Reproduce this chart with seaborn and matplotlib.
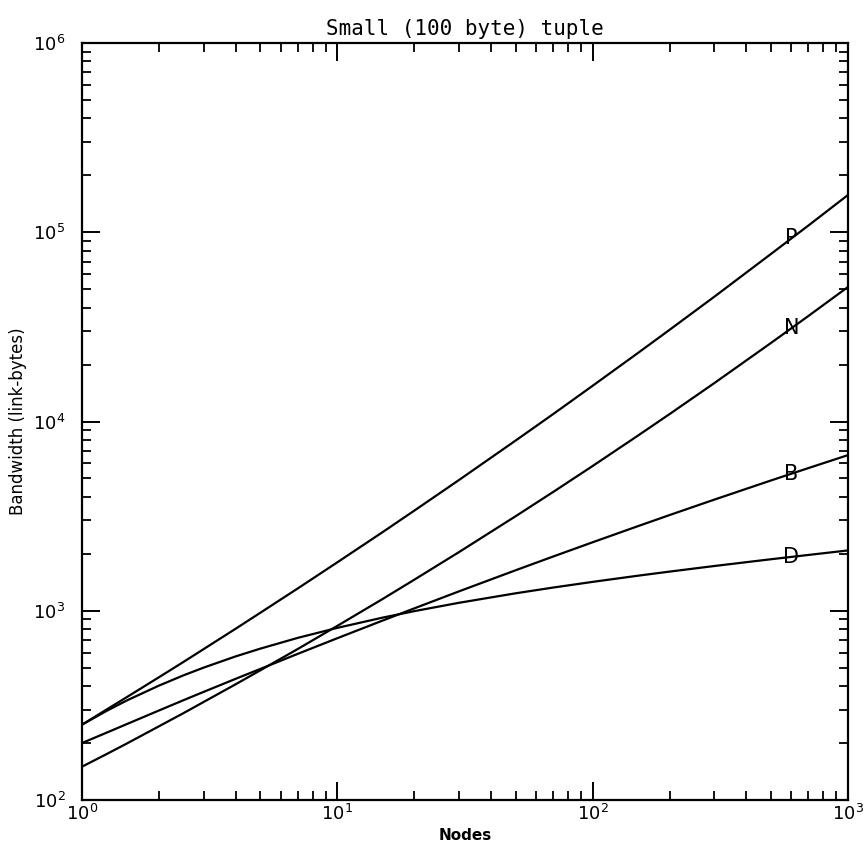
import numpy as np
import pandas as pd
import matplotlib
matplotlib.use("Agg")
import matplotlib.pyplot as plt
import seaborn as sns
from matplotlib.ticker import LogLocator, NullFormatter

# values (log-log axes)
nodes = [1, 1.25, 1.5, 2, 2.5, 3, 4, 5, 7, 10, 15, 20, 30, 50, 70,
         100, 150, 200, 300, 500, 700, 1000]
bw_p = [250, 301, 350, 445, 537, 628, 804, 977, 1312, 1803, 2596, 3378, 4914,
        7943, 10940, 15450, 22950, 30500, 45710, 76900, 108600, 157400]
bw_n = [150, 175, 199, 245, 288, 330, 409, 485, 628, 832, 1151, 1458, 2044,
        3163, 4241, 5821, 8401, 10940, 15980, 26040, 36120, 51400]
bw_b = [200, 227, 252, 297, 337, 373, 437, 493, 592, 716, 886, 1029, 1267,
        1638, 1934, 2301, 2795, 3203, 3868, 4883, 5675, 6643]
bw_d = [250, 296, 336, 402, 456, 501, 574, 631, 719, 812, 919, 995, 1102,
        1237, 1326, 1421, 1531, 1610, 1724, 1872, 1972, 2083]
series_names = ["P", "N", "B", "D"]
label_x = 600

df = pd.concat(
    [
        pd.DataFrame({"nodes": nodes, "bandwidth": vals, "series": name})
        for name, vals in zip(series_names, [bw_p, bw_n, bw_b, bw_d])
    ],
    ignore_index=True,
)

sns.set_style("ticks")
plt.rcParams["font.family"] = ["DejaVu Sans"]
plt.rcParams["text.color"] = "black"
plt.rcParams["axes.labelcolor"] = "black"
plt.rcParams["xtick.color"] = "black"
plt.rcParams["ytick.color"] = "black"

fig = plt.figure(figsize=(8.66, 8.52), dpi=100)
ax = fig.add_axes([82 / 866, 1 - 800 / 852, 766 / 866, 757 / 852])

sns.lineplot(
    data=df, x="nodes", y="bandwidth", hue="series",
    palette={s: "black" for s in series_names}, legend=False,
    linewidth=1.6, ax=ax,
)
ax.set_xscale("log")
ax.set_yscale("log")
ax.set_xlim(1, 1000)
ax.set_ylim(100, 1e6)

for spine in ax.spines.values():
    spine.set_visible(True)
    spine.set_linewidth(1.6)
    spine.set_color("black")

ax.xaxis.set_major_locator(LogLocator(base=10, numticks=10))
ax.yaxis.set_major_locator(LogLocator(base=10, numticks=10))
ax.xaxis.set_minor_locator(LogLocator(base=10, subs=np.arange(2, 10), numticks=20))
ax.yaxis.set_minor_locator(LogLocator(base=10, subs=np.arange(2, 10), numticks=20))
ax.xaxis.set_minor_formatter(NullFormatter())
ax.yaxis.set_minor_formatter(NullFormatter())
ax.tick_params(which="both", direction="in", top=True, right=True)
ax.tick_params(which="major", length=13, width=1.4, labelsize=13)
ax.tick_params(axis="x", which="major", pad=3)
ax.tick_params(axis="y", which="major", pad=12)
ax.tick_params(which="minor", length=6.5, width=1.3)

ax.set_xlabel("Nodes", fontsize=11, fontweight="bold", labelpad=3)
ax.set_ylabel("Bandwidth (link-bytes)", fontsize=12, labelpad=4)
ax.set_title("Small (100 byte) tuple", fontsize=15, family="DejaVu Sans Mono", pad=6)

for name, vals in zip(series_names, [bw_p, bw_n, bw_b, bw_d]):
    y = 10 ** np.interp(np.log10(label_x), np.log10(nodes), np.log10(vals))
    ax.text(label_x, y, name, fontsize=15, ha="center", va="center")

fig.savefig("out.png", dpi=100)
